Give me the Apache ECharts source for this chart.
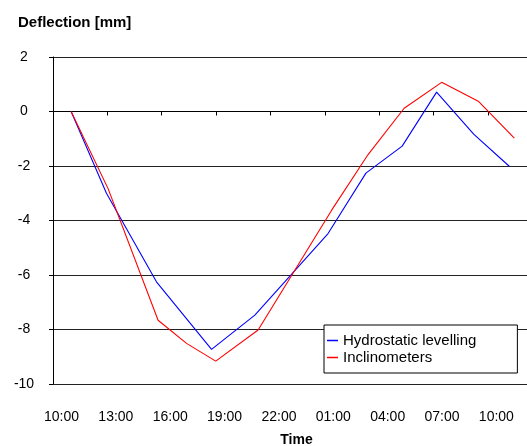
<!DOCTYPE html>
<html>
<head>
<meta charset="utf-8">
<script src="https://cdn.jsdelivr.net/npm/echarts@6/dist/echarts.min.js"></script>
<style>html,body{margin:0;padding:0;background:#fff;}#c{width:527px;height:446px;}</style>
</head>
<body>
<div id="c"></div>
<script>
// Time in hours since 00:00 of day 1 (values > 24 are the next day)
var hydroTime = [11.0, 12.95, 15.71, 18.75, 21.14, 25.18, 27.27, 29.27, 31.17, 33.23, 35.18];
var hydroDefl = [0, -3.0, -6.25, -8.73, -7.47, -4.48, -2.26, -1.27, 0.71, -0.84, -2.01];
var inclTime = [11.0, 13.04, 15.8, 17.37, 18.98, 21.32, 25.37, 27.39, 29.38, 31.45, 33.47, 35.46];
var inclDefl = [0, -2.83, -7.66, -8.51, -9.16, -8.02, -3.63, -1.58, 0.12, 1.07, 0.38, -0.98];
var seriesNames = ['Hydrostatic levelling', 'Inclinometers'];
var yTicks = [-10, -8, -6, -4, -2, 0, 2];

function pairs(t, v) { return t.map(function (x, i) { return [x, v[i]]; }); }
function fmtHour(h) {
  var hh = Math.round(h) % 24;
  return (hh < 10 ? '0' : '') + hh + ':00';
}

var chart = echarts.init(document.getElementById('c'));
var font = 'Liberation Sans, Arial, sans-serif';
chart.setOption({
  animation: false,
  backgroundColor: '#fff',
  title: {
    text: 'Deflection [mm]',
    left: 13, top: 10,
    textStyle: { fontFamily: font, fontSize: 15, fontWeight: 'bold', color: '#000' }
  },
  grid: { left: 53, top: 57, bottom: 62, right: 0, containLabel: false, outerBoundsMode: 'none' },
  legend: {
    orient: 'vertical',
    left: 324, top: 325,
    padding: [8, 41, 8, 3],
    itemGap: 2,
    itemWidth: 11, itemHeight: 1.5,
    icon: 'rect',
    backgroundColor: '#fff',
    borderColor: '#000', borderWidth: 1,
    textStyle: { fontFamily: font, fontSize: 15, color: '#000' },
    data: seriesNames
  },
  xAxis: {
    type: 'value',
    min: 10, max: 36.16, interval: 3,
    name: 'Time', nameLocation: 'middle', nameGap: 49,
    nameTextStyle: { fontFamily: font, fontSize: 14, fontWeight: 'bold', color: '#000', padding: [0, 0, 0, 13] },
    axisLine: { lineStyle: { color: '#000', width: 1 } },
    axisTick: { show: true, length: 4, lineStyle: { color: '#000' } },
    axisLabel: {
      fontFamily: font, fontSize: 14, color: '#000',
      margin: 26, padding: [0, 0, 0, 17],
      showMaxLabel: false,
      formatter: fmtHour
    },
    splitLine: { show: false }
  },
  yAxis: {
    type: 'value',
    min: yTicks[0], max: yTicks[yTicks.length - 1], interval: 2,
    axisLine: { show: true, lineStyle: { color: '#000', width: 1 } },
    axisTick: { show: true, length: 4, lineStyle: { color: '#000' } },
    axisLabel: { fontFamily: font, fontSize: 14, color: '#000', margin: 29, align: 'center' },
    splitLine: { show: true, lineStyle: { color: '#222', width: 1 } }
  },
  series: [
    {
      name: seriesNames[0], type: 'line', showSymbol: false, symbol: 'none',
      data: pairs(hydroTime, hydroDefl),
      lineStyle: { color: '#0000ff', width: 1.1 }, itemStyle: { color: '#0000ff' }
    },
    {
      name: seriesNames[1], type: 'line', showSymbol: false, symbol: 'none',
      data: pairs(inclTime, inclDefl),
      lineStyle: { color: '#ff0000', width: 1.1 }, itemStyle: { color: '#ff0000' }
    }
  ]
});
</script>
</body>
</html>
